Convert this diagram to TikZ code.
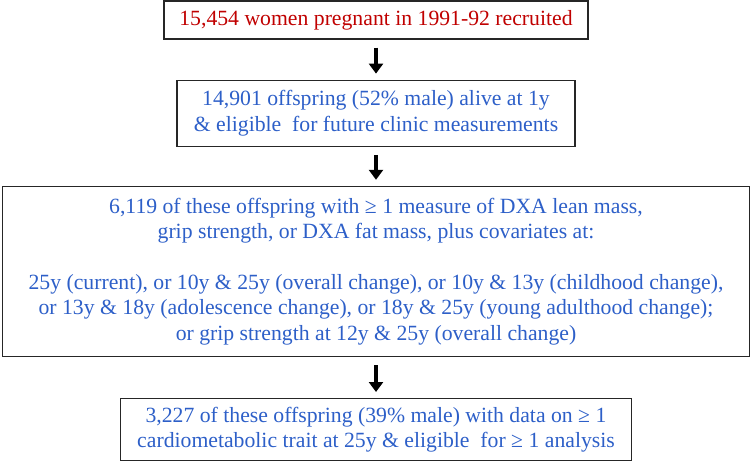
\documentclass[tikz,border=0pt]{standalone}
\usepackage{fontspec}
\setmainfont{Liberation Serif}
\usetikzlibrary{positioning, arrows.meta}
\definecolor{recruitred}{RGB}{192,0,0}
\definecolor{cohortblue}{RGB}{45,95,200}
\tikzstyle{stage} = [
    rectangle,
    draw=black!85,
    line width=1.2bp,
    align=center,
    font=\fontsize{21.8}{25.5}\selectfont,
    text=cohortblue
]
\tikzstyle{arrow} = [
    line width=4.5bp,
    -{Triangle[width=14bp,length=10bp]},
    shorten <=8bp,
    shorten >=6bp
]

\begin{document}
\begin{tikzpicture}[node distance=40bp]
\useasboundingbox (0,0) rectangle (750bp,-462bp);

\node (recruit) [stage, text=recruitred, minimum width=424bp, minimum height=38bp]
    at (376bp,-20bp)
{15,454 women pregnant in 1991-92 recruited};

\node (alive) [stage, below=of recruit, minimum width=398bp, minimum height=66bp]
{14,901 offspring (52\% male) alive at 1y\\
\& eligible\ \ for future clinic measurements};

\node (measure) [stage, below=39bp of alive, minimum width=747bp, minimum height=170bp]
{6,119 of these offspring with ≥ 1 measure of DXA lean mass,\\
grip strength, or DXA fat mass, plus covariates at:\\[25.5bp]
25y (current), or 10y \& 25y (overall change), or 10y \& 13y (childhood change),\\
or 13y \& 18y (adolescence change), or 18y \& 25y (young adulthood change);\\
or grip strength at 12y \& 25y (overall change)};

\node (analysis) [stage, below=41bp of measure, minimum width=511bp, minimum height=62bp]
{3,227 of these offspring (39\% male) with data on ≥ 1\\
cardiometabolic trait at 25y \& eligible\ \ for ≥ 1 analysis};

% Arrows
\draw [arrow] (recruit) -- (alive);
\draw [arrow] (alive) -- (measure);
\draw [arrow] (measure) -- (analysis);

\end{tikzpicture}
\end{document}
